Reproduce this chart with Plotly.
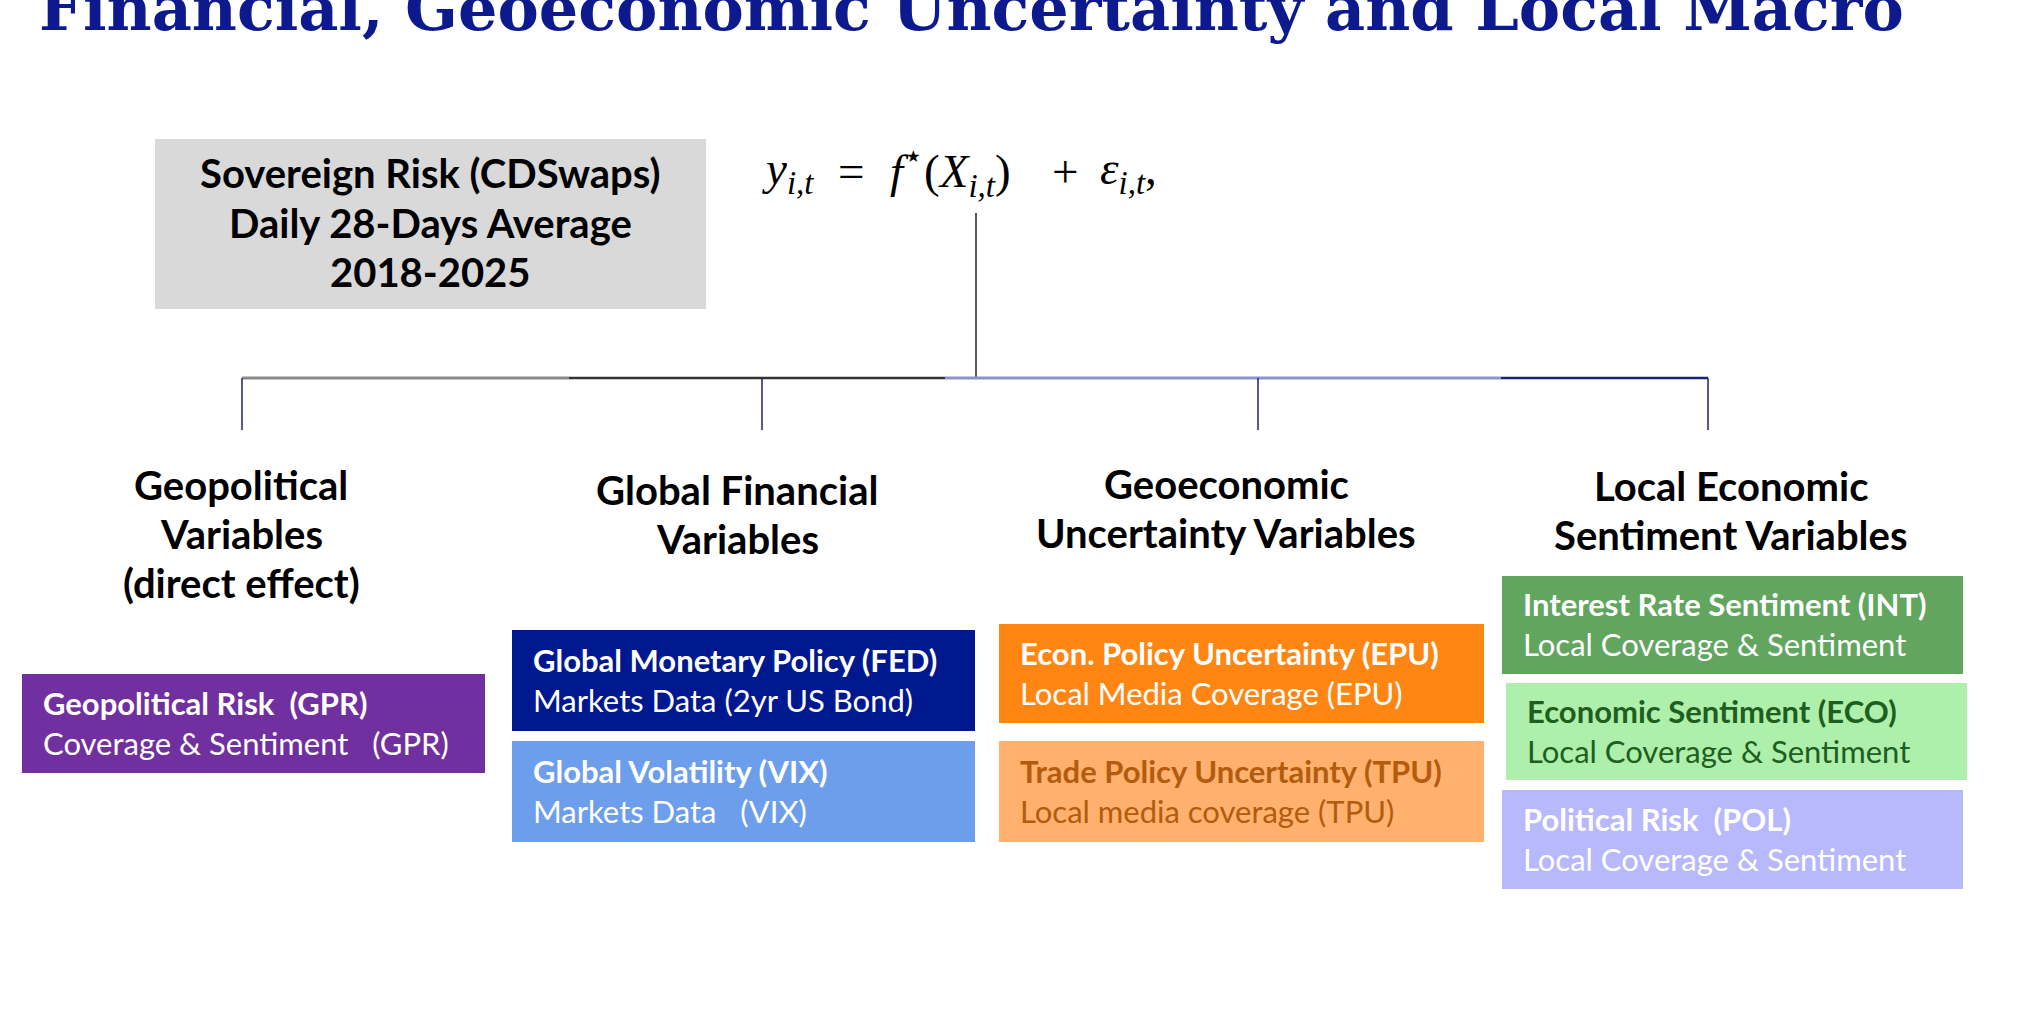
import plotly.graph_objects as go

# ---------------- content ----------------
TITLE = "Financial, Geoeconomic Uncertainty and Local Macro"
TARGET_LINES = ["Sovereign Risk (CDSwaps)", "Daily 28-Days Average", "2018-2025"]
EQUATION_TOKENS = [
    "<i>y</i><sub><i>i,t</i></sub>",
    "=",
    "<i>f</i><sup>\u22c6</sup>(<i>X</i><sub><i>i,t</i></sub>)",
    "+",
    "<i>\u03b5</i><sub><i>i,t</i></sub>,",
]
GROUP_HEADINGS = [
    ["Geopolitical", "Variables", "(direct effect)"],
    ["Global Financial", "Variables"],
    ["Geoeconomic", "Uncertainty Variables"],
    ["Local Economic", "Sentiment Variables"],
]
BOX_TITLES = [
    "Geopolitical Risk\u00a0 (GPR)",
    "Global Monetary Policy (FED)",
    "Global Volatility (VIX)",
    "Econ. Policy Uncertainty (EPU)",
    "Trade Policy Uncertainty (TPU)",
    "Interest Rate Sentiment (INT)",
    "Economic Sentiment (ECO)",
    "Political Risk\u00a0 (POL)",
]
BOX_SUBTITLES = [
    "Coverage & Sentiment\u00a0\u00a0 (GPR)",
    "Markets Data (2yr US Bond)",
    "Markets Data\u00a0\u00a0 (VIX)",
    "Local Media Coverage (EPU)",
    "Local media coverage (TPU)",
    "Local Coverage & Sentiment",
    "Local Coverage & Sentiment",
    "Local Coverage & Sentiment",
]
BOX_FILLS = ["#7030a0", "#00188f", "#6d9eeb", "#ff8613", "#ffb16d", "#62a55f", "#adefab", "#b8b8fd"]
BOX_TEXT_COLORS = ["#ffffff", "#ffffff", "#ffffff", "#ffffff", "#b35c0e", "#ffffff", "#1e5e1e", "#ffffff"]

# ---------------- layout geometry ----------------
W, H = 2021, 1020
SANS = "Lato"
BOX_GEOM = [
    (22, 485, 674, 773),
    (512, 975, 630, 731),
    (512, 975, 741, 842),
    (999, 1484, 624, 723),
    (999, 1484, 741, 842),
    (1502, 1963, 576, 674),
    (1506, 1967, 683, 780),
    (1502, 1963, 790, 889),
]
HEADING_X = [241, 737, 1226, 1731]
HEADING_Y0 = [485, 490, 484, 486]
HEADING_DY = 49
DROP_X = [242, 762, 1258, 1708]
EQ_X = [760, 836, 888, 1050, 1098]

fig = go.Figure()
shapes = []
ann = []

# title (cut at the top edge, as in the source slide)
ann.append(dict(x=37, y=47, text="<b>" + TITLE + "</b>", xanchor="left", yanchor="bottom",
                font=dict(family="DejaVu Serif", size=62, color="#0c1a8e")))

# target box
shapes.append(dict(type="rect", x0=155, x1=706, y0=139, y1=309, fillcolor="#d9d9d9", line=dict(width=0), layer="below"))
for i, t in enumerate(TARGET_LINES):
    ann.append(dict(x=430, y=173 + i * 49.5, text="<b>" + t + "</b>", xanchor="center", yanchor="middle",
                    font=dict(family=SANS, size=40, color="#000000")))

# equation
for ex, tok in zip(EQ_X, EQUATION_TOKENS):
    ann.append(dict(x=ex, y=171, text=tok, xanchor="left", yanchor="middle",
                    font=dict(family="Liberation Serif", size=47, color="#000000")))

# connector lines
shapes.append(dict(type="line", x0=976, x1=976, y0=213, y1=378, line=dict(color="#222222", width=1.5)))
for xa, xb, col, wd in [(242, 569, "#8a8a8a", 3), (569, 945, "#333333", 2.5),
                        (945, 1501, "#8d93c4", 3), (1501, 1708, "#1c2170", 2.5)]:
    shapes.append(dict(type="line", x0=xa, x1=xb, y0=378, y1=378, line=dict(color=col, width=wd)))
for dx in DROP_X:
    shapes.append(dict(type="line", x0=dx, x1=dx, y0=378, y1=430, line=dict(color="#1c2170", width=1.5)))

# group headings
for hx, hy, lines in zip(HEADING_X, HEADING_Y0, GROUP_HEADINGS):
    for j, t in enumerate(lines):
        ann.append(dict(x=hx, y=hy + j * HEADING_DY, text="<b>" + t + "</b>", xanchor="center", yanchor="middle",
                        font=dict(family=SANS, size=40, color="#000000")))

# variable boxes
for (x0, x1, y0, y1), ttl, sub, fill, tc in zip(BOX_GEOM, BOX_TITLES, BOX_SUBTITLES, BOX_FILLS, BOX_TEXT_COLORS):
    shapes.append(dict(type="rect", x0=x0, x1=x1, y0=y0, y1=y1, fillcolor=fill, line=dict(width=0), layer="below"))
    cy = (y0 + y1) / 2
    ann.append(dict(x=x0 + 19, y=cy - 21, text="<b>" + ttl + "</b>", xanchor="left", yanchor="middle",
                    font=dict(family=SANS, size=31, color=tc)))
    ann.append(dict(x=x0 + 19, y=cy + 19, text=sub, xanchor="left", yanchor="middle",
                    font=dict(family=SANS, size=31, color=tc)))

for a in ann:
    a.update(xref="x", yref="y", showarrow=False)

fig.update_layout(
    width=W, height=H, margin=dict(l=0, r=0, t=0, b=0),
    paper_bgcolor="#ffffff", plot_bgcolor="#ffffff",
    xaxis=dict(range=[0, W], visible=False, fixedrange=True),
    yaxis=dict(range=[H, 0], visible=False, fixedrange=True),
    shapes=shapes, annotations=ann, showlegend=False,
)

fig.write_html("out.html", config={"displayModeBar": False},
               post_script="document.body.style.margin='0';document.body.style.overflow='hidden';")
